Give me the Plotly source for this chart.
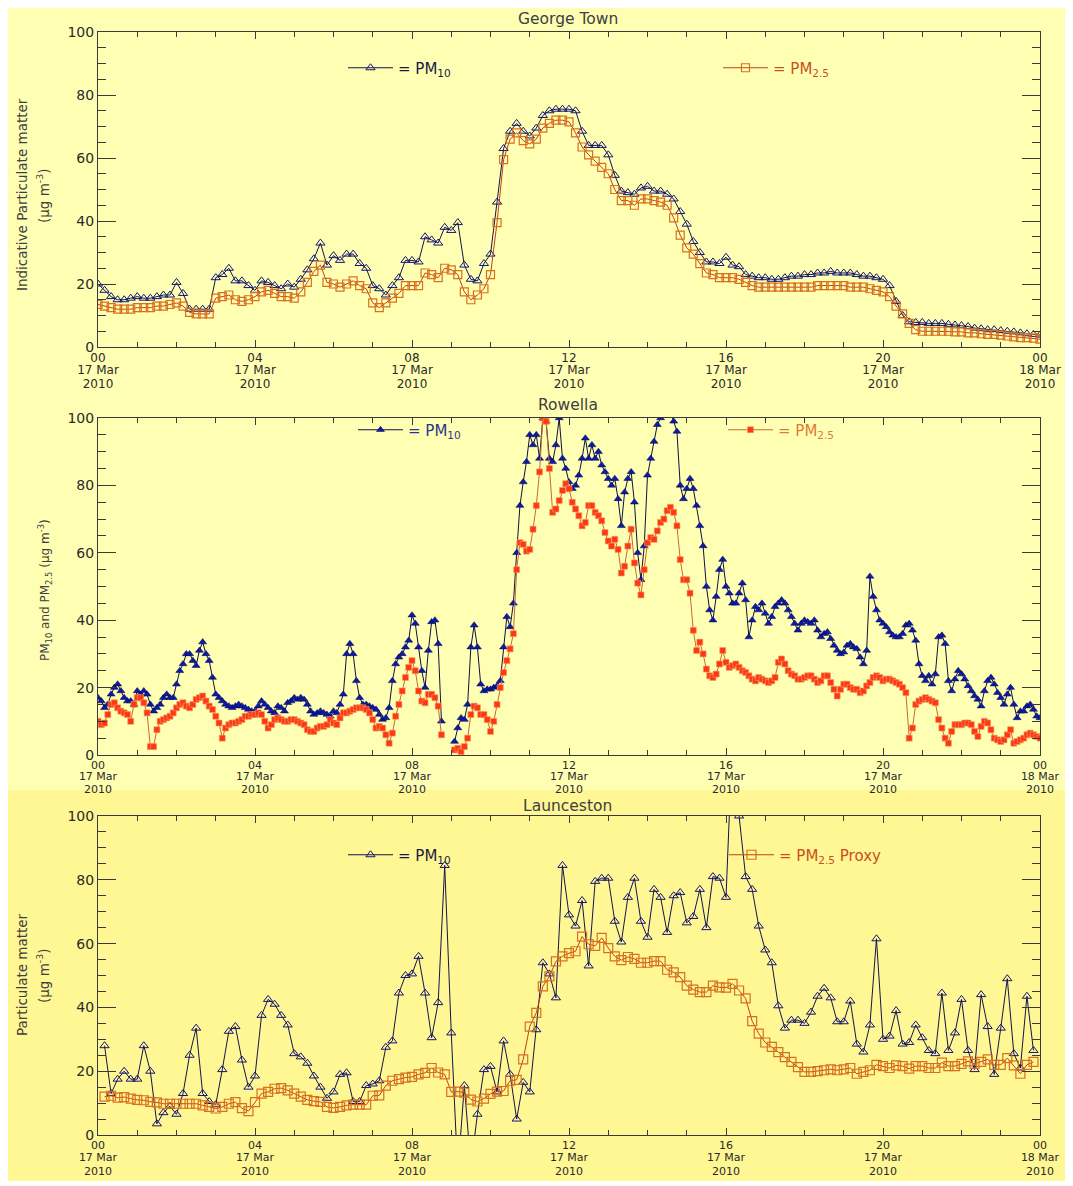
import pandas as pd
import plotly.graph_objects as go

W, H = 1073, 1186

# ---------------- time bases ----------------
t10 = pd.date_range("2010-03-17 00:00", "2010-03-18 00:00", freq="10min")   # 145 stamps
t5 = pd.date_range("2010-03-17 00:00", "2010-03-18 00:00", freq="5min")     # 289 stamps

# ---------------- George Town (10-min) ----------------
gt_pm10 = [20, 18, 16, 15, 15, 15.5,
           16, 15.5, 15.5, 16, 16.5, 16.5,
           20.5, 17, 12, 12, 12, 12,
           22, 23, 25, 21, 21, 19.5,
           18, 21, 20.5, 19.5, 18.5, 20,
           19, 21.5, 24.5, 28, 33, 26,
           29, 27.5, 29.5, 29.5, 26.5, 25,
           19.5, 18.5, 16.5, 19.5, 22, 27.5,
           27.5, 27, 35, 34, 33, 38,
           37, 39.5, 26, 21.5, 21, 26.5,
           29.5, 46, 63, 68.5, 71, 68.5,
           67, 69.5, 73.5, 75, 75.5, 75.5,
           75.5, 75, 68.5, 64, 64, 64,
           61, 54.5, 49.5, 49, 48.5, 50.5,
           51, 49.5, 49.5, 48.5, 47, 43,
           39, 33.5, 30, 27, 27, 26.5,
           28.5, 26, 25.5, 23, 22.5, 22,
           22, 21.5, 21.5, 22, 22.5, 22.5,
           23, 23, 23.5, 23.5, 24, 23.5,
           23.5, 23.5, 23, 22.5, 22.5, 22,
           21.5, 19.5, 14.5, 10, 8, 7.8,
           7.8, 7.5, 7.5, 7.5, 7.2, 7,
           6.8, 6.5, 6, 5.8, 5.5, 5.5,
           5.2, 5, 4.8, 4.5, 4.2, 4,
           3.8]
gt_pm25 = [13.5, 13, 12.5, 12, 12, 12,
           12.5, 12.5, 12.5, 13, 13, 13.5,
           14, 13, 11, 10.5, 10.5, 10.5,
           15.5, 16, 16.5, 15, 14.5, 15,
           16, 17.5, 18, 17, 16, 16,
           15.5, 17.5, 20.5, 24, 26, 20.5,
           20, 19, 20, 21, 19.5, 18.5,
           14, 12.5, 14, 15.5, 17, 19.5,
           19.5, 19.5, 23.5, 23, 22, 25,
           24.5, 23, 17.5, 15, 16.5, 18.5,
           23, 39.5, 59.5, 66, 68, 65.5,
           64.5, 66, 69.5, 71, 72, 72,
           71.5, 68, 63.5, 61, 59, 57,
           55, 50, 46.5, 46.5, 45, 47,
           47, 46.5, 46, 45, 41, 35.5,
           31.5, 29.5, 26.5, 23.5, 23, 22,
           22, 22, 21.5, 20.5, 19.5, 19,
           19, 19, 19, 19, 19, 19,
           19, 19, 19.5, 19.5, 19.5, 19.5,
           19.5, 19, 19, 19, 18.5, 18,
           17.5, 16, 13, 10.5, 7.5, 5.5,
           5, 5, 5, 5, 5, 4.8,
           4.8, 4.5, 4.5, 4.2, 4, 4,
           3.8, 3.5, 3.2, 3, 3, 2.8,
           2.5]

# ---------------- Rowella (5-min) ----------------
row_pm10 = [17, 16, 14, 15, 18, 20, 21, 19, 17, 16, 16, 15,
            19, 18, 19, 18, 15, 13, 14, 15, 17, 18, 17, 17,
            21, 25, 27, 30, 30, 28, 26.5, 31, 33.5, 30, 28, 23,
            18, 17, 16, 15, 14.5, 14, 14.5, 15, 14.5, 14, 13.5, 13,
            13, 14.5, 16, 15, 14, 13, 12.5, 14.5, 14, 13, 15.5, 16,
            17, 16.5, 17, 16.5, 15, 13, 12, 12.5, 13, 12.5, 12, 11.5,
            13, 12.5, 15, 18, 30, 33, 30, 22, 17, 15, 15, 14.5,
            14, 13.5, 12, 10.5, 11, 14, 22, 27, 29, 30, 32, 34,
            41.5, 39, 32, 25, 20, 31, 39.5, 40, 33, 10, None, None,
            None, 4, 8, 11, 10.5, 15, 32, 38.5, 32, 21, 19, 19.5,
            19.5, 20, 20.5, 22, 32, 41, 38, 45, 60, 74, 81, 87,
            95, 92, 95, 88, 100, 99, 88, 87, 92, 100, 88, 85,
            81, 79, 80, 83, 88, 94, 88, 92, 88, 90, 86, 84,
            82, 80, 82, 76, 68, 78, 82, 84, 75, 60, 52, 62,
            83, 88, 93, 98, 100, 102, 103, 102, 99, 96, 80, 76,
            79, 82, 79, 74, 68, 62, 50, 43, 40, 47, 55, 58,
            50, 48, 45, 45, 48, 51, 46, 35, 40, 44, 43, 45,
            42, 39, 41, 44, 45, 46, 45, 43, 41, 39, 37, 39,
            40, 39.5, 39, 40, 37, 35, 36, 36.5, 34.5, 32.5, 31, 30,
            30.5, 32.5, 33, 32, 31.5, 29, 27, 31, 53, 47, 43, 40,
            39, 38, 36.5, 35.5, 35, 35, 36, 38.5, 39, 37, 34, 27,
            23.5, 22, 23.5, 21, 24, 35, 35.5, 33, 22, 19, 22.5, 25,
            24, 22.5, 20.5, 19, 17.5, 16.5, 14.5, 19, 22, 23, 21, 18.5,
            17, 15, 18, 20, 15, 11, 13, 13, 14.5, 15, 13.5, 11.5,
            11]
row_pm25 = [10, 9, 9.5, 12, 15, 15.5, 14, 13, 12.5, 12, 10, 15,
            17, 17, 15.5, 12.5, 2.5, 2.5, 7.5, 10, 10.5, 11, 11.5, 12.5,
            14, 15, 15.5, 14.5, 14, 15, 16.5, 17, 17.5, 16, 14.5, 13.5,
            11.5, 9.5, 5, 8, 9, 9.5, 9.5, 10, 10.5, 11.5, 11.5, 12,
            12, 12.5, 12, 10, 8, 9, 10.5, 11, 10.5, 10, 10, 10.5,
            10.5, 10, 9.5, 9, 7.5, 7, 7, 8, 8.5, 8.5, 9, 10.5,
            9.5, 9, 11, 12.5, 12.5, 13, 13.5, 14, 14, 14, 13.5, 12.5,
            10.5, 8, 8.5, 8, 6, 3.5, 6.5, 11.5, 15, 19, 23, 26,
            28, 25, 19, 16, 15.5, 18, 18, 17, 14.5, 6, None, None,
            None, 1.5, 2, 1, 2.5, 5, 12, 14.5, 14, 12, 12, 10.5,
            7, 10, 15, 20, 24.5, 28, 31.5, 36, 55, 63, 62.5, 60.5,
            61, 67, 74, 84, 100, 99, 85, 72, 73, 75.5, 78.5, 80.5,
            79, 75, 73, 71, 68, 69, 74, 74, 72, 71, 69.5, 66,
            63.5, 62, 64, 61, 54, 56, 62, 67, 57, 51, 47.5, 55,
            63, 64.5, 64, 66.5, 69, 70, 72.5, 73.5, 72, 68, 58, 52,
            52, 48, 37, 31, 33.5, 30, 25.5, 23.5, 23, 24, 27, 31,
            27.5, 26, 26.5, 27, 26, 25, 24.5, 23.5, 22.5, 22, 23, 22.5,
            22, 21.5, 22, 23, 27.5, 28.5, 27, 25, 24, 23.5, 22.5, 22.5,
            23, 23.5, 23.5, 22.5, 21.5, 22, 23.5, 23.5, 21.5, 19.5, 17.5, 19.5,
            21, 21, 20, 19.5, 19.5, 18.5, 19, 20.5, 21.5, 23, 23.5, 23,
            22, 22.5, 22.5, 22, 21.5, 21, 20, 18.5, 5, 8, 15, 16,
            16.5, 17, 16.5, 16, 15.5, 10.5, 8, 5, 3.5, 7, 9, 9,
            9, 9.5, 9.5, 9, 7, 5.5, 8.5, 10, 9.5, 7.5, 5, 4.5,
            4, 4.5, 6, 7.5, 3.5, 4, 4.5, 5, 6, 6.5, 6, 5.5,
            5]

# ---------------- Launceston (10-min, 00:10 .. 23:50) ----------------
lau_pm10 = [28, 13, 17.5, 20, 17.5,
            17.5, 28, 20, 3.5, 7, 9,
            6.5, 13, 25, 33.5, 13, 10.5,
            9.5, 20.5, 32.5, 34, 23.5, 15,
            18.5, 37.5, 42.5, 41, 37.5, 34.5,
            25.5, 24.5, 22.5, 18.5, 15, 11.5,
            13.5, 19, 19.5, 10.5, 10.5, 15.5,
            16, 17, 27.5, 29.5, 44.5, 50,
            50.5, 56, 44.5, 30.5, 41.5, 84.5,
            32, -12, 15.5, -10, 6.5, 20.5,
            21.5, 13.5, 29.5, 19, 5, 16.5,
            13.5, 33, 54, 50.5, 43, 84.5,
            69, 65.5, 73.5, 53, 79.5, 80.5,
            80.5, 67, 60.5, 74.5, 80.5, 67,
            62, 77, 74.5, 63.5, 75, 76,
            66.5, 68.5, 77, 65, 81, 80.5,
            74.5, 125, 100, 81, 77, 65.5,
            58, 54, 40.5, 33.5, 36, 36,
            35, 38.5, 43.5, 46, 43, 35.5,
            35.5, 42, 28.5, 26, 34.5, 61.5,
            30, 31, 39, 28.5, 29, 34.5,
            30.5, 26.5, 25.5, 44.5, 26.5, 32,
            42.5, 26.5, 20.5, 44, 34, 19,
            33.5, 49, 25.5, 21, 43.5, 26.5]
lau_pm25 = [12, 12.3, 11.7, 11.9, 11.4,
            11, 10.9, 10.4, 10.2, 9.8, 9.8,
            9.8, 9.8, 9.8, 9.8, 9.3, 8.8,
            8.3, 8.8, 9.8, 10.3, 8.4, 7.5,
            10.3, 13, 13.5, 14.5, 14.7, 14,
            13, 12, 11, 10.6, 10.4, 8.8,
            8.5, 8.8, 9.3, 9.5, 9.5, 9.5,
            12.3, 12.4, 15.5, 17, 17.5, 18,
            18.2, 19, 19.5, 21, 19.6, 19,
            13.5, 13.6, 13.3, 11.1, 10.5, 11.4,
            12.9, 13.6, 13.8, 17, 17.3, 23.7,
            34, 38.3, 46.6, 49.7, 54.4, 56,
            57, 57.6, 62.2, 59.8, 59.3, 61.8,
            58.6, 56, 54.8, 55.8, 55.2, 54,
            54, 54.5, 54.5, 51.8, 51, 49.5,
            46.8, 45.6, 44.8, 44.8, 46.8, 46.3,
            46.2, 47.4, 45.3, 42.8, 35.7, 31.8,
            29, 27.6, 26, 24.4, 22.9, 21.3,
            19.8, 19.8, 20, 20.3, 20.6, 20.3,
            20.6, 21, 19.2, 19.8, 20.3, 22,
            21.6, 21, 21.8, 21.6, 20.8, 21.6,
            21.6, 21, 21, 22.7, 21.6, 21.6,
            22.3, 23.1, 22.3, 22.9, 23.7, 22,
            22, 24.1, 21.8, 19.2, 22, 22.9]

gt_time = t10[:len(gt_pm10)]
row_time = t5[:len(row_pm10)]
lau_time = t10[1:1 + len(lau_pm10)]

panel_titles = ["George Town", "Rowella", "Launceston"]

# ---------------- styling helpers ----------------
FONT = "DejaVu Sans"
AX = "#3a3a3a"
TXT = "#2a2a2a"
PALE = "rgb(255,255,180)"
DEEP = "rgb(255,246,148)"
X0, X1 = "2010-03-17 00:00", "2010-03-18 00:00"
PAGE_OFF = 8  # the page body offsets the figure by 8 px; positions below are page pixels


def px(x):
    return (x - PAGE_OFF) / W


def py(y):
    return 1 - (y - PAGE_OFF) / H


XL, XR = 98, 1040
panels = [(32, 347), (418, 755), (816, 1135)]
label_standoffs = [(14, 28), (13, 26), (14, 28)]
label_sizes = [12, 11, 11]

fig = go.Figure()

navy_line = "#14144a"
navy = "#141478"
orange = "#d8701e"
orange_line = "#c0401a"

# George Town
fig.add_trace(go.Scatter(x=gt_time, y=gt_pm10, mode="lines+markers", name="= PM<sub>10</sub>",
                         line=dict(color=navy_line, width=1),
                         marker=dict(symbol="triangle-up-open", size=8, color=navy, line=dict(width=1)),
                         xaxis="x", yaxis="y", legend="legend"))
fig.add_trace(go.Scatter(x=gt_time, y=gt_pm25, mode="lines+markers", name="= PM<sub>2.5</sub>",
                         line=dict(color=orange_line, width=1),
                         marker=dict(symbol="square-open", size=8, color=orange, line=dict(width=1.2)),
                         xaxis="x", yaxis="y", legend="legend2"))
# Rowella
fig.add_trace(go.Scatter(x=row_time, y=row_pm10, mode="lines+markers", name="= PM<sub>10</sub>",
                         line=dict(color="#101040", width=1),
                         marker=dict(symbol="triangle-up", size=7, color="#0c1c9c",
                                     line=dict(width=0.5, color="#000060")),
                         xaxis="x2", yaxis="y2", legend="legend3"))
fig.add_trace(go.Scatter(x=row_time, y=row_pm25, mode="lines+markers", name="= PM<sub>2.5</sub>",
                         line=dict(color="#c86a30", width=1),
                         marker=dict(symbol="square", size=6, color="#ff3814",
                                     line=dict(width=0.6, color="#f0a060")),
                         xaxis="x2", yaxis="y2", legend="legend4"))
# Launceston
fig.add_trace(go.Scatter(x=lau_time, y=lau_pm10, mode="lines+markers", name="= PM<sub>10</sub>",
                         line=dict(color=navy_line, width=1),
                         marker=dict(symbol="triangle-up-open", size=8, color=navy, line=dict(width=1)),
                         xaxis="x3", yaxis="y3", legend="legend5"))
fig.add_trace(go.Scatter(x=lau_time, y=lau_pm25, mode="lines+markers", name="= PM<sub>2.5</sub> Proxy",
                         line=dict(color=orange_line, width=1),
                         marker=dict(symbol="square-open", size=9, color=orange, line=dict(width=1.2)),
                         xaxis="x3", yaxis="y3", legend="legend6"))

# empty helper traces so the overlaid date-label axes get drawn
for k in range(4, 10):
    fig.add_trace(go.Scatter(x=[], y=[], xaxis=f"x{k}", yaxis=["y", "y2", "y3"][(k - 4) % 3],
                             showlegend=False, hoverinfo="skip"))


def xaxis_main(anchor, fs):
    return dict(domain=[px(XL), px(XR)], anchor=anchor, type="date", range=[X0, X1],
                tick0=X0, dtick=4 * 3600000, tickformat="%H",
                ticks="inside", ticklen=7, tickcolor=AX, tickwidth=1,
                minor=dict(dtick=3600000, ticks="inside", ticklen=5, tickcolor=AX, tickwidth=1),
                showline=True, linecolor=AX, linewidth=1, mirror="ticks",
                showgrid=False, zeroline=False, automargin=False,
                ticklabelstandoff=0,
                tickfont=dict(family=FONT, size=fs, color=TXT))


def xaxis_label(over, anchor, fmt, standoff, fs):
    return dict(overlaying=over, anchor=anchor, type="date", range=[X0, X1],
                tick0=X0, dtick=4 * 3600000, tickformat=fmt, ticks="",
                showline=False, showgrid=False, zeroline=False, automargin=False,
                ticklabelstandoff=int(standoff),
                tickfont=dict(family=FONT, size=fs, color=TXT))


def yaxis_cfg(anchor, top, bot):
    return dict(domain=[py(bot), py(top)], anchor=anchor, range=[0, 100],
                dtick=20, ticks="inside", ticklen=18, tickcolor=AX, tickwidth=1,
                minor=dict(dtick=5, ticks="inside", ticklen=8, tickcolor=AX, tickwidth=1),
                showline=True, linecolor=AX, linewidth=1, mirror="ticks",
                showgrid=False, zeroline=False, automargin=False,
                tickfont=dict(family=FONT, size=14, color=TXT))


def legend_cfg(xpx, ypx, color):
    return dict(x=px(xpx), y=py(ypx), xanchor="left", yanchor="middle",
                bgcolor="rgba(0,0,0,0)", borderwidth=0, itemwidth=45,
                font=dict(family=FONT, size=15, color=color))


shapes = [
    dict(type="rect", xref="paper", yref="paper", x0=px(8), x1=px(1067), y0=py(790), y1=py(6),
         fillcolor=PALE, line=dict(width=0), layer="below"),
    dict(type="rect", xref="paper", yref="paper", x0=px(8), x1=px(1067), y0=py(1181), y1=py(790),
         fillcolor=DEEP, line=dict(width=0), layer="below"),
]

annotations = []
title_y = [19, 405, 806]
for t, ty in zip(panel_titles, title_y):
    annotations.append(dict(text=t, x=px(568), y=py(ty), xref="paper", yref="paper",
                            showarrow=False, xanchor="center", yanchor="middle",
                            font=dict(family=FONT, size=15.5, color="#404040")))

ytitles = [
    ("Indicative Particulate matter", 22, 195, 13.5),
    ("(μg m<sup>-3</sup>)", 43, 195, 13.5),
    ("PM<sub>10</sub> and PM<sub>2.5</sub> (μg m<sup>-3</sup>)", 45, 590, 12),
    ("Particulate matter", 22, 975, 13.5),
    ("(μg m<sup>-3</sup>)", 43, 975, 13.5),
]
for txt, xx, yy, fs in ytitles:
    annotations.append(dict(text=txt, x=px(xx), y=py(yy), xref="paper", yref="paper",
                            showarrow=False, textangle=-90, xanchor="center", yanchor="middle",
                            font=dict(family=FONT, size=fs, color="#404040")))

layout_axes = {}
ys = ["y", "y2", "y3"]
xs = ["x", "x2", "x3"]
for i in range(3):
    sfx = "" if i == 0 else str(i + 1)
    fs = label_sizes[i]
    layout_axes["xaxis" + sfx] = xaxis_main(ys[i], fs)
    layout_axes["yaxis" + sfx] = yaxis_cfg(xs[i], *panels[i])
    sd, sy = label_standoffs[i]
    layout_axes[f"xaxis{4 + i}"] = xaxis_label(xs[i], ys[i], "%d %b", sd, fs)
    layout_axes[f"xaxis{7 + i}"] = xaxis_label(xs[i], ys[i], "%Y", sy, fs)

fig.update_layout(
    width=W, height=H, margin=dict(l=0, r=0, t=0, b=0, autoexpand=False),
    paper_bgcolor="white", plot_bgcolor="rgba(0,0,0,0)",
    font=dict(family=FONT),
    legend=legend_cfg(343, 68, "#1a1a40"),
    legend2=legend_cfg(718, 68, "#c8501e"),
    legend3=legend_cfg(353, 430, "#2a3490"),
    legend4=legend_cfg(723, 430, "#e07a3a"),
    legend5=legend_cfg(343, 855, "#1a1a40"),
    legend6=legend_cfg(724, 855, "#c8501e"),
    shapes=shapes, annotations=annotations,
    showlegend=True,
    **layout_axes,
)

fig.write_html("out.html")
